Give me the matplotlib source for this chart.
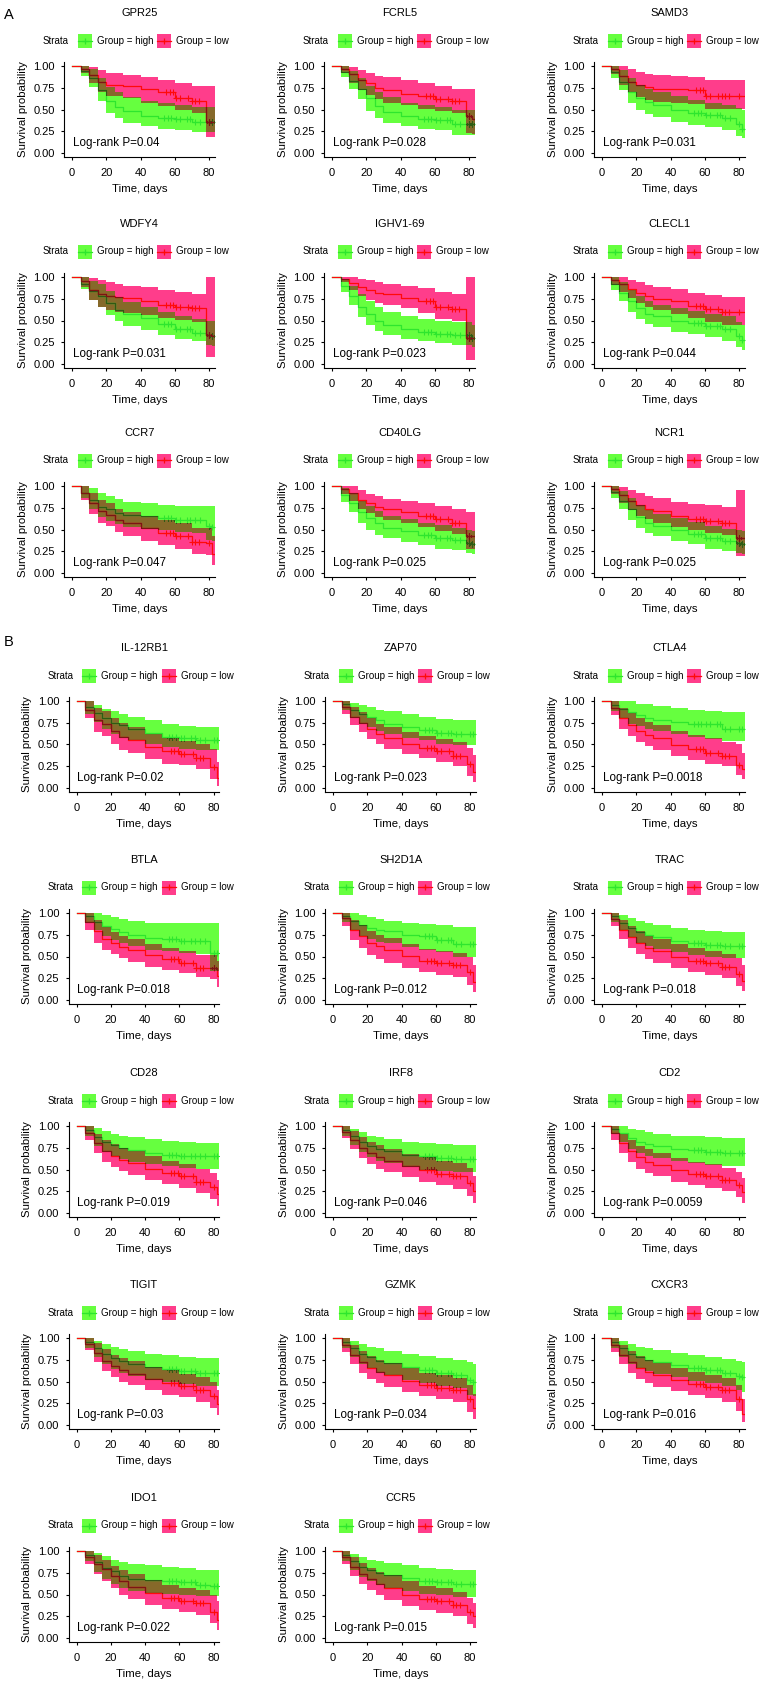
import numpy as np
import matplotlib
matplotlib.use('Agg')
import matplotlib.pyplot as plt
from matplotlib.patches import Rectangle
from matplotlib.lines import Line2D

plt.rcParams['font.family'] = ['Liberation Sans', 'DejaVu Sans']

genes = ['GPR25', 'FCRL5', 'SAMD3', 'WDFY4', 'IGHV1-69', 'CLECL1',
         'CCR7', 'CD40LG', 'NCR1',
         'IL-12RB1', 'ZAP70', 'CTLA4', 'BTLA', 'SH2D1A', 'TRAC',
         'CD28', 'IRF8', 'CD2', 'TIGIT', 'GZMK', 'CXCR3', 'IDO1', 'CCR5']
pvals = ['0.04', '0.028', '0.031', '0.031', '0.023', '0.044', '0.047',
         '0.025', '0.025', '0.02', '0.023', '0.0018', '0.018', '0.012',
         '0.018', '0.019', '0.046', '0.0059', '0.03', '0.034', '0.016',
         '0.022', '0.015']

# step times (days) shared by all curves
days = [0, 5, 10, 15, 20, 25, 30, 40, 50, 60, 70, 78, 82]

high_surv = [
    [1.0, 0.94, 0.86, 0.72, 0.60, 0.53, 0.48, 0.43, 0.40, 0.39, 0.355, 0.355, 0.355],
    [1.0, 0.93, 0.83, 0.74, 0.63, 0.54, 0.47, 0.43, 0.39, 0.38, 0.33, 0.33, 0.33],
    [1.0, 0.93, 0.82, 0.70, 0.63, 0.59, 0.55, 0.50, 0.46, 0.44, 0.40, 0.33, 0.28],
    [1.0, 0.92, 0.84, 0.78, 0.70, 0.62, 0.57, 0.53, 0.46, 0.40, 0.36, 0.33, 0.32],
    [1.0, 0.90, 0.78, 0.66, 0.57, 0.50, 0.45, 0.40, 0.37, 0.35, 0.33, 0.33, 0.30],
    [1.0, 0.92, 0.82, 0.72, 0.64, 0.58, 0.55, 0.50, 0.47, 0.44, 0.40, 0.32, 0.28],
    [1.0, 0.92, 0.84, 0.76, 0.73, 0.69, 0.67, 0.65, 0.63, 0.61, 0.61, 0.54, 0.53],
    [1.0, 0.90, 0.80, 0.70, 0.63, 0.57, 0.52, 0.48, 0.44, 0.40, 0.38, 0.35, 0.33],
    [1.0, 0.93, 0.83, 0.73, 0.64, 0.58, 0.54, 0.49, 0.45, 0.40, 0.37, 0.35, 0.33],
    [1.0, 0.93, 0.86, 0.80, 0.75, 0.72, 0.68, 0.63, 0.59, 0.57, 0.55, 0.55, 0.55],
    [1.0, 0.96, 0.90, 0.85, 0.82, 0.78, 0.74, 0.70, 0.67, 0.63, 0.62, 0.62, 0.62],
    [1.0, 0.95, 0.91, 0.87, 0.84, 0.80, 0.78, 0.76, 0.74, 0.73, 0.68, 0.68, 0.68],
    [1.0, 0.96, 0.90, 0.85, 0.82, 0.78, 0.75, 0.71, 0.70, 0.68, 0.68, 0.54, 0.54],
    [1.0, 0.97, 0.91, 0.86, 0.83, 0.81, 0.79, 0.75, 0.73, 0.69, 0.64, 0.64, 0.64],
    [1.0, 0.96, 0.89, 0.83, 0.78, 0.75, 0.72, 0.68, 0.66, 0.63, 0.62, 0.62, 0.62],
    [1.0, 0.95, 0.87, 0.82, 0.78, 0.75, 0.72, 0.69, 0.67, 0.66, 0.66, 0.66, 0.66],
    [1.0, 0.95, 0.88, 0.82, 0.77, 0.74, 0.71, 0.67, 0.65, 0.63, 0.62, 0.62, 0.62],
    [1.0, 0.97, 0.92, 0.86, 0.82, 0.79, 0.77, 0.74, 0.72, 0.70, 0.69, 0.69, 0.69],
    [1.0, 0.95, 0.88, 0.82, 0.77, 0.73, 0.70, 0.67, 0.64, 0.62, 0.60, 0.60, 0.60],
    [1.0, 0.95, 0.88, 0.82, 0.78, 0.74, 0.71, 0.67, 0.63, 0.60, 0.58, 0.52, 0.50],
    [1.0, 0.95, 0.88, 0.82, 0.78, 0.75, 0.72, 0.69, 0.66, 0.63, 0.60, 0.56, 0.55],
    [1.0, 0.95, 0.87, 0.81, 0.77, 0.71, 0.68, 0.67, 0.66, 0.64, 0.61, 0.60, 0.60],
    [1.0, 0.95, 0.88, 0.82, 0.78, 0.75, 0.72, 0.69, 0.66, 0.64, 0.62, 0.62, 0.62],
]
high_lower = [
    [1.0, 0.88, 0.76, 0.60, 0.46, 0.40, 0.35, 0.31, 0.28, 0.26, 0.24, 0.24, 0.24],
    [1.0, 0.87, 0.74, 0.62, 0.48, 0.40, 0.35, 0.31, 0.28, 0.26, 0.21, 0.21, 0.21],
    [1.0, 0.86, 0.72, 0.58, 0.50, 0.45, 0.41, 0.36, 0.32, 0.30, 0.26, 0.20, 0.17],
    [1.0, 0.86, 0.74, 0.65, 0.56, 0.49, 0.44, 0.39, 0.33, 0.29, 0.26, 0.22, 0.21],
    [1.0, 0.83, 0.68, 0.54, 0.45, 0.38, 0.33, 0.29, 0.26, 0.24, 0.22, 0.22, 0.20],
    [1.0, 0.85, 0.72, 0.60, 0.52, 0.46, 0.42, 0.37, 0.34, 0.31, 0.27, 0.20, 0.16],
    [1.0, 0.86, 0.74, 0.64, 0.60, 0.56, 0.53, 0.51, 0.49, 0.47, 0.46, 0.38, 0.37],
    [1.0, 0.82, 0.70, 0.58, 0.50, 0.44, 0.40, 0.36, 0.32, 0.28, 0.26, 0.23, 0.22],
    [1.0, 0.86, 0.73, 0.61, 0.52, 0.46, 0.42, 0.37, 0.33, 0.28, 0.25, 0.23, 0.22],
    [1.0, 0.85, 0.76, 0.68, 0.62, 0.58, 0.55, 0.51, 0.47, 0.45, 0.44, 0.44, 0.44],
    [1.0, 0.90, 0.80, 0.74, 0.70, 0.65, 0.62, 0.58, 0.55, 0.51, 0.49, 0.49, 0.49],
    [1.0, 0.88, 0.80, 0.74, 0.71, 0.68, 0.66, 0.62, 0.59, 0.56, 0.54, 0.54, 0.54],
    [1.0, 0.88, 0.80, 0.74, 0.69, 0.65, 0.62, 0.58, 0.56, 0.54, 0.53, 0.33, 0.33],
    [1.0, 0.90, 0.80, 0.74, 0.70, 0.67, 0.65, 0.61, 0.58, 0.55, 0.50, 0.50, 0.50],
    [1.0, 0.90, 0.80, 0.72, 0.66, 0.62, 0.59, 0.55, 0.52, 0.49, 0.48, 0.48, 0.48],
    [1.0, 0.88, 0.77, 0.70, 0.65, 0.62, 0.59, 0.56, 0.54, 0.52, 0.51, 0.51, 0.51],
    [1.0, 0.88, 0.78, 0.70, 0.64, 0.60, 0.57, 0.53, 0.50, 0.48, 0.47, 0.47, 0.47],
    [1.0, 0.91, 0.82, 0.74, 0.69, 0.66, 0.63, 0.60, 0.57, 0.55, 0.54, 0.54, 0.54],
    [1.0, 0.88, 0.78, 0.70, 0.64, 0.60, 0.56, 0.52, 0.49, 0.47, 0.45, 0.45, 0.45],
    [1.0, 0.88, 0.78, 0.70, 0.65, 0.60, 0.57, 0.52, 0.48, 0.45, 0.42, 0.35, 0.33],
    [1.0, 0.88, 0.78, 0.70, 0.65, 0.62, 0.59, 0.55, 0.51, 0.48, 0.45, 0.40, 0.38],
    [1.0, 0.88, 0.76, 0.68, 0.62, 0.57, 0.54, 0.52, 0.51, 0.49, 0.48, 0.48, 0.48],
    [1.0, 0.88, 0.78, 0.70, 0.65, 0.61, 0.58, 0.54, 0.51, 0.49, 0.47, 0.47, 0.47],
]
high_upper = [
    [1.0, 1.0, 0.96, 0.86, 0.76, 0.70, 0.64, 0.60, 0.57, 0.55, 0.53, 0.53, 0.53],
    [1.0, 1.0, 0.94, 0.86, 0.77, 0.70, 0.64, 0.58, 0.55, 0.53, 0.50, 0.50, 0.50],
    [1.0, 1.0, 0.95, 0.86, 0.78, 0.74, 0.70, 0.65, 0.61, 0.58, 0.55, 0.52, 0.50],
    [1.0, 1.0, 0.95, 0.92, 0.84, 0.77, 0.71, 0.66, 0.60, 0.55, 0.52, 0.50, 0.50],
    [1.0, 0.98, 0.90, 0.80, 0.72, 0.65, 0.60, 0.55, 0.52, 0.50, 0.48, 0.48, 0.45],
    [1.0, 1.0, 0.94, 0.85, 0.78, 0.72, 0.68, 0.64, 0.61, 0.58, 0.55, 0.48, 0.45],
    [1.0, 1.0, 0.98, 0.92, 0.88, 0.85, 0.82, 0.80, 0.78, 0.77, 0.77, 0.77, 0.77],
    [1.0, 0.98, 0.92, 0.83, 0.77, 0.71, 0.66, 0.62, 0.58, 0.55, 0.52, 0.50, 0.48],
    [1.0, 1.0, 0.94, 0.86, 0.78, 0.72, 0.68, 0.63, 0.59, 0.54, 0.51, 0.50, 0.48],
    [1.0, 1.0, 0.95, 0.91, 0.88, 0.85, 0.82, 0.78, 0.74, 0.71, 0.70, 0.70, 0.70],
    [1.0, 1.0, 0.98, 0.95, 0.93, 0.90, 0.88, 0.85, 0.82, 0.79, 0.78, 0.78, 0.78],
    [1.0, 1.0, 1.0, 1.0, 0.97, 0.96, 0.94, 0.92, 0.90, 0.89, 0.87, 0.87, 0.87],
    [1.0, 1.0, 1.0, 0.98, 0.95, 0.93, 0.91, 0.89, 0.88, 0.88, 0.88, 0.88, 0.88],
    [1.0, 1.0, 1.0, 0.98, 0.95, 0.93, 0.91, 0.89, 0.87, 0.86, 0.84, 0.84, 0.84],
    [1.0, 1.0, 0.98, 0.94, 0.91, 0.88, 0.86, 0.83, 0.81, 0.79, 0.78, 0.78, 0.78],
    [1.0, 1.0, 0.98, 0.94, 0.91, 0.89, 0.87, 0.85, 0.83, 0.82, 0.81, 0.81, 0.81],
    [1.0, 1.0, 0.97, 0.93, 0.89, 0.87, 0.85, 0.82, 0.80, 0.79, 0.78, 0.78, 0.78],
    [1.0, 1.0, 1.0, 0.97, 0.95, 0.93, 0.91, 0.89, 0.88, 0.87, 0.86, 0.86, 0.86],
    [1.0, 1.0, 0.97, 0.93, 0.90, 0.87, 0.85, 0.82, 0.80, 0.78, 0.77, 0.77, 0.77],
    [1.0, 1.0, 0.97, 0.93, 0.90, 0.88, 0.85, 0.82, 0.79, 0.77, 0.75, 0.72, 0.70],
    [1.0, 1.0, 0.97, 0.93, 0.90, 0.88, 0.86, 0.83, 0.81, 0.78, 0.76, 0.73, 0.72],
    [1.0, 1.0, 0.98, 0.94, 0.90, 0.87, 0.85, 0.84, 0.82, 0.80, 0.78, 0.78, 0.78],
    [1.0, 1.0, 0.97, 0.93, 0.90, 0.88, 0.86, 0.84, 0.81, 0.79, 0.78, 0.78, 0.78],
]
low_surv = [
    [1.0, 0.97, 0.90, 0.82, 0.78, 0.78, 0.77, 0.74, 0.70, 0.63, 0.60, 0.36, 0.36],
    [1.0, 0.97, 0.91, 0.84, 0.80, 0.75, 0.72, 0.68, 0.65, 0.62, 0.60, 0.42, 0.39],
    [1.0, 0.97, 0.89, 0.82, 0.78, 0.76, 0.74, 0.74, 0.72, 0.66, 0.66, 0.66, 0.66],
    [1.0, 0.95, 0.85, 0.80, 0.78, 0.77, 0.76, 0.72, 0.68, 0.66, 0.64, 0.33, 0.32],
    [1.0, 0.98, 0.93, 0.88, 0.85, 0.82, 0.80, 0.76, 0.72, 0.66, 0.63, 0.30, 0.30],
    [1.0, 0.97, 0.92, 0.86, 0.82, 0.78, 0.75, 0.72, 0.67, 0.63, 0.60, 0.60, 0.60],
    [1.0, 0.92, 0.80, 0.71, 0.67, 0.61, 0.57, 0.52, 0.46, 0.43, 0.36, 0.35, 0.22],
    [1.0, 0.97, 0.92, 0.84, 0.80, 0.76, 0.73, 0.70, 0.66, 0.62, 0.58, 0.43, 0.43],
    [1.0, 0.97, 0.90, 0.83, 0.78, 0.74, 0.71, 0.66, 0.62, 0.60, 0.58, 0.40, 0.40],
    [1.0, 0.90, 0.78, 0.74, 0.65, 0.59, 0.55, 0.47, 0.42, 0.39, 0.35, 0.24, 0.12],
    [1.0, 0.93, 0.82, 0.75, 0.68, 0.62, 0.57, 0.51, 0.46, 0.43, 0.37, 0.28, 0.18],
    [1.0, 0.92, 0.80, 0.72, 0.66, 0.61, 0.57, 0.49, 0.45, 0.40, 0.37, 0.26, 0.22],
    [1.0, 0.90, 0.79, 0.70, 0.65, 0.61, 0.57, 0.52, 0.47, 0.43, 0.37, 0.37, 0.28],
    [1.0, 0.94, 0.81, 0.73, 0.66, 0.62, 0.58, 0.51, 0.45, 0.42, 0.40, 0.32, 0.21],
    [1.0, 0.93, 0.81, 0.72, 0.66, 0.60, 0.56, 0.50, 0.45, 0.42, 0.38, 0.30, 0.22],
    [1.0, 0.92, 0.80, 0.71, 0.66, 0.61, 0.57, 0.51, 0.46, 0.42, 0.36, 0.30, 0.22],
    [1.0, 0.93, 0.84, 0.75, 0.69, 0.64, 0.60, 0.54, 0.49, 0.45, 0.42, 0.35, 0.25],
    [1.0, 0.92, 0.80, 0.71, 0.64, 0.59, 0.55, 0.49, 0.45, 0.42, 0.38, 0.32, 0.24],
    [1.0, 0.93, 0.83, 0.74, 0.68, 0.63, 0.59, 0.53, 0.48, 0.45, 0.40, 0.33, 0.24],
    [1.0, 0.92, 0.81, 0.72, 0.66, 0.61, 0.57, 0.51, 0.46, 0.43, 0.40, 0.30, 0.20],
    [1.0, 0.92, 0.81, 0.72, 0.66, 0.61, 0.57, 0.52, 0.47, 0.44, 0.40, 0.30, 0.13],
    [1.0, 0.93, 0.85, 0.79, 0.71, 0.65, 0.59, 0.52, 0.46, 0.43, 0.40, 0.30, 0.21],
    [1.0, 0.93, 0.82, 0.74, 0.68, 0.62, 0.57, 0.50, 0.45, 0.42, 0.38, 0.30, 0.25],
]
low_lower = [
    [1.0, 0.92, 0.80, 0.70, 0.66, 0.65, 0.63, 0.58, 0.54, 0.49, 0.46, 0.18, 0.18],
    [1.0, 0.92, 0.81, 0.72, 0.67, 0.62, 0.58, 0.55, 0.51, 0.48, 0.46, 0.23, 0.22],
    [1.0, 0.91, 0.78, 0.70, 0.64, 0.61, 0.59, 0.58, 0.56, 0.51, 0.51, 0.51, 0.51],
    [1.0, 0.88, 0.74, 0.66, 0.62, 0.60, 0.59, 0.56, 0.53, 0.51, 0.48, 0.08, 0.08],
    [1.0, 0.94, 0.85, 0.78, 0.74, 0.70, 0.68, 0.64, 0.59, 0.52, 0.49, 0.05, 0.05],
    [1.0, 0.91, 0.83, 0.76, 0.70, 0.65, 0.62, 0.58, 0.53, 0.48, 0.45, 0.45, 0.45],
    [1.0, 0.84, 0.68, 0.58, 0.54, 0.47, 0.43, 0.37, 0.32, 0.28, 0.22, 0.21, 0.09],
    [1.0, 0.91, 0.83, 0.74, 0.69, 0.64, 0.61, 0.57, 0.53, 0.48, 0.45, 0.28, 0.28],
    [1.0, 0.91, 0.81, 0.72, 0.66, 0.62, 0.58, 0.53, 0.49, 0.46, 0.44, 0.20, 0.20],
    [1.0, 0.80, 0.64, 0.60, 0.50, 0.44, 0.40, 0.33, 0.28, 0.26, 0.22, 0.10, 0.02],
    [1.0, 0.85, 0.72, 0.64, 0.56, 0.50, 0.45, 0.39, 0.34, 0.30, 0.25, 0.14, 0.07],
    [1.0, 0.84, 0.68, 0.60, 0.53, 0.48, 0.44, 0.37, 0.32, 0.28, 0.25, 0.15, 0.10],
    [1.0, 0.80, 0.66, 0.58, 0.53, 0.48, 0.44, 0.38, 0.34, 0.31, 0.26, 0.24, 0.15],
    [1.0, 0.85, 0.69, 0.60, 0.52, 0.47, 0.43, 0.37, 0.32, 0.29, 0.26, 0.17, 0.09],
    [1.0, 0.85, 0.70, 0.60, 0.53, 0.47, 0.43, 0.37, 0.32, 0.29, 0.25, 0.16, 0.10],
    [1.0, 0.84, 0.69, 0.59, 0.53, 0.48, 0.44, 0.38, 0.33, 0.29, 0.23, 0.16, 0.08],
    [1.0, 0.86, 0.73, 0.63, 0.56, 0.51, 0.47, 0.41, 0.36, 0.32, 0.28, 0.20, 0.12],
    [1.0, 0.84, 0.69, 0.59, 0.51, 0.46, 0.42, 0.36, 0.32, 0.29, 0.25, 0.18, 0.11],
    [1.0, 0.86, 0.72, 0.62, 0.55, 0.50, 0.46, 0.40, 0.35, 0.32, 0.27, 0.19, 0.11],
    [1.0, 0.84, 0.70, 0.60, 0.53, 0.48, 0.44, 0.38, 0.33, 0.30, 0.26, 0.15, 0.07],
    [1.0, 0.84, 0.70, 0.60, 0.53, 0.48, 0.44, 0.39, 0.34, 0.31, 0.27, 0.16, 0.03],
    [1.0, 0.85, 0.73, 0.65, 0.57, 0.50, 0.45, 0.38, 0.33, 0.30, 0.26, 0.17, 0.09],
    [1.0, 0.85, 0.71, 0.62, 0.55, 0.49, 0.44, 0.37, 0.32, 0.29, 0.25, 0.16, 0.12],
]
low_upper = [
    [1.0, 1.0, 0.99, 0.95, 0.92, 0.92, 0.90, 0.87, 0.84, 0.80, 0.77, 0.77, 0.77],
    [1.0, 1.0, 0.99, 0.95, 0.92, 0.89, 0.87, 0.84, 0.80, 0.77, 0.74, 0.73, 0.73],
    [1.0, 1.0, 1.0, 0.96, 0.93, 0.91, 0.90, 0.89, 0.87, 0.84, 0.84, 0.84, 0.84],
    [1.0, 1.0, 0.99, 0.96, 0.94, 0.92, 0.90, 0.88, 0.85, 0.83, 0.81, 1.0, 1.0],
    [1.0, 1.0, 1.0, 0.98, 0.96, 0.94, 0.92, 0.90, 0.87, 0.83, 0.81, 1.0, 1.0],
    [1.0, 1.0, 1.0, 0.97, 0.94, 0.91, 0.88, 0.86, 0.82, 0.79, 0.77, 0.77, 0.77],
    [1.0, 1.0, 0.92, 0.84, 0.80, 0.74, 0.70, 0.66, 0.61, 0.58, 0.52, 0.52, 0.42],
    [1.0, 1.0, 1.0, 0.95, 0.91, 0.88, 0.85, 0.83, 0.80, 0.77, 0.74, 0.70, 0.70],
    [1.0, 1.0, 0.99, 0.95, 0.92, 0.89, 0.86, 0.82, 0.79, 0.78, 0.76, 0.95, 0.95],
    [1.0, 1.0, 0.92, 0.88, 0.80, 0.75, 0.70, 0.62, 0.57, 0.54, 0.50, 0.45, 0.30],
    [1.0, 1.0, 0.93, 0.87, 0.80, 0.74, 0.70, 0.64, 0.60, 0.56, 0.53, 0.46, 0.38],
    [1.0, 1.0, 0.92, 0.86, 0.80, 0.76, 0.72, 0.66, 0.61, 0.57, 0.53, 0.50, 0.40],
    [1.0, 1.0, 0.92, 0.84, 0.78, 0.74, 0.70, 0.64, 0.60, 0.56, 0.52, 0.52, 0.45],
    [1.0, 1.0, 0.92, 0.86, 0.79, 0.75, 0.71, 0.64, 0.59, 0.56, 0.54, 0.50, 0.40],
    [1.0, 1.0, 0.92, 0.85, 0.79, 0.74, 0.70, 0.64, 0.60, 0.56, 0.53, 0.48, 0.40],
    [1.0, 1.0, 0.91, 0.84, 0.79, 0.75, 0.71, 0.65, 0.60, 0.56, 0.51, 0.46, 0.38],
    [1.0, 1.0, 0.94, 0.87, 0.82, 0.78, 0.74, 0.68, 0.64, 0.60, 0.57, 0.52, 0.43],
    [1.0, 1.0, 0.91, 0.84, 0.77, 0.73, 0.69, 0.63, 0.59, 0.56, 0.52, 0.47, 0.40],
    [1.0, 1.0, 0.94, 0.87, 0.81, 0.77, 0.73, 0.67, 0.63, 0.59, 0.55, 0.49, 0.40],
    [1.0, 1.0, 0.92, 0.85, 0.79, 0.75, 0.71, 0.65, 0.60, 0.57, 0.54, 0.46, 0.36],
    [1.0, 1.0, 0.92, 0.85, 0.79, 0.75, 0.71, 0.66, 0.61, 0.58, 0.54, 0.46, 0.30],
    [1.0, 1.0, 0.95, 0.90, 0.83, 0.78, 0.74, 0.67, 0.61, 0.58, 0.55, 0.50, 0.42],
    [1.0, 1.0, 0.93, 0.86, 0.81, 0.76, 0.72, 0.65, 0.60, 0.57, 0.53, 0.46, 0.40],
]
# censored times (+ marks)
high_censor = [54, 56, 58, 61, 63, 67, 69, 72, 75, 80, 82]
low_censor = [55, 57, 59, 61, 63, 68, 70, 72, 74, 80]

GREEN_BAND = '#66ff3f'
PINK_BAND = '#ff3d8b'
OVERLAP = '#86692a'
GREEN_LINE = '#2ee62e'
RED_LINE = '#ff0a0a'
GREEN_DARK = '#2f5a14'
RED_DARK = '#7c1414'

W, H = 760, 1682
x_end = 83.5
px_day = 137 / 80
px_unit = 87

col_zero = {'A': [72, 332, 602], 'B': [76.5, 333, 602]}
row_one = {'A': [66, 277, 486], 'B': [701, 913, 1126, 1338, 1551]}

fig = plt.figure(figsize=(W / 100, H / 100), dpi=100)


def fx(px):
    return px / W


def fy(py):
    return 1 - py / H


def draw_legend(cx, cy):
    fig.text(fx(cx - 96.7), fy(cy), 'Strata', ha='left', va='center', fontsize=7)
    for x0, band, line, label in [(cx - 61.7, GREEN_BAND, GREEN_LINE, 'Group = high'),
                                  (cx + 17.5, PINK_BAND, RED_LINE, 'Group = low')]:
        fig.add_artist(Rectangle((fx(x0), fy(cy + 7)), 14 / W, 14 / H,
                                 transform=fig.transFigure, color=band, lw=0))
        fig.add_artist(Line2D([fx(x0), fx(x0 + 14)], [fy(cy), fy(cy)],
                              transform=fig.transFigure, color=line, lw=0.9))
        fig.add_artist(Line2D([fx(x0 + 7)], [fy(cy)], transform=fig.transFigure,
                              color=line, marker='+', ms=5, mew=0.9, ls='none'))
        fig.text(fx(x0 + 19), fy(cy), label, ha='left', va='center', fontsize=7)


x = np.append(days, x_end)

for i, gene in enumerate(genes):
    sec = 'A' if i < 9 else 'B'
    r, c = divmod(i if i < 9 else i - 9, 3)
    x0 = col_zero[sec][c]
    y1 = row_one[sec][r]
    left = x0 - 4.5 * px_day
    top = y1 - 0.05 * px_unit
    width = (x_end + 4.5) * px_day
    height = 1.1 * px_unit
    ax = fig.add_axes([fx(left), fy(top + height), width / W, height / H])
    ax.set_xlim(-4.5, x_end)
    ax.set_ylim(-0.05, 1.05)

    hs, hl, hh = [np.append(a[i], a[i][-1]) for a in (high_surv, high_lower, high_upper)]
    ls, ll, lh = [np.append(a[i], a[i][-1]) for a in (low_surv, low_lower, low_upper)]

    g = ax.fill_between(x, hl, hh, step='post', color=GREEN_BAND, lw=0, zorder=1)
    p = ax.fill_between(x, ll, lh, step='post', color=PINK_BAND, lw=0, zorder=2)
    o = ax.fill_between(x, ll, lh, step='post', color=OVERLAP, lw=0, zorder=3)
    g_path = g.get_paths()[0]
    p_path = p.get_paths()[0]
    o.set_clip_path(g_path, ax.transData)

    for surv, cens, col, dark, other in [(hs, high_censor, GREEN_LINE, GREEN_DARK, p_path),
                                         (ls, low_censor, RED_LINE, RED_DARK, g_path)]:
        idx = np.searchsorted(days, cens, side='right') - 1
        cy = surv[idx]
        for colour, z, clip in [(col, 4, None), (dark, 5, other)]:
            ln, = ax.step(x, surv, where='post', color=colour, lw=0.9, zorder=z)
            mk, = ax.plot(cens, cy, ls='none', marker='+', ms=4.5, mew=0.8,
                          color=colour, zorder=z)
            if clip is not None:
                ln.set_clip_path(clip, ax.transData)
                mk.set_clip_path(clip, ax.transData)

    ax.text(0.3, 0.12, f'Log-rank P={pvals[i]}', ha='left', va='center', fontsize=8.4)

    for s in ['top', 'right']:
        ax.spines[s].set_visible(False)
    for s in ['left', 'bottom']:
        ax.spines[s].set_linewidth(0.8)
    ax.set_xticks([0, 20, 40, 60, 80])
    ax.set_yticks([0, 0.25, 0.5, 0.75, 1.0])
    ax.set_yticklabels(['0.00', '0.25', '0.50', '0.75', '1.00'])
    ax.tick_params(axis='both', length=2, width=0.8, labelsize=8)
    ax.tick_params(axis='y', pad=4.8)
    ax.tick_params(axis='x', pad=5.5)
    ax.set_xlabel('Time, days', fontsize=8.2, va='center')
    ax.set_ylabel('Survival probability', fontsize=8.2, va='center')
    ax.xaxis.set_label_coords(0.5, -31.6 / height)
    ax.yaxis.set_label_coords(-41.6 / width, 0.5)

    cx = left + width / 2
    fig.text(fx(cx), fy(y1 - 53), gene, ha='center', va='center', fontsize=8)
    draw_legend(cx, y1 - 25.5)

fig.text(fx(9), fy(15), 'A', ha='center', va='center', fontsize=10.5)
fig.text(fx(9), fy(642), 'B', ha='center', va='center', fontsize=10.5)

fig.savefig('out.png', dpi=100)
